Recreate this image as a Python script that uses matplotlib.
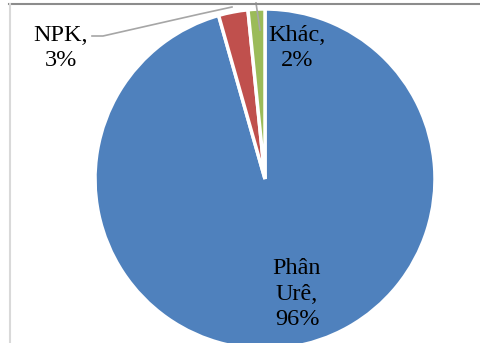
import matplotlib
matplotlib.use("Agg")
import matplotlib.pyplot as plt

categories = ["Phân\nUrê", "NPK", "Khác"]
values = [95.6, 2.8, 1.6]
pct_labels = ["96%", "3%", "2%"]
colors = ["#4F81BD", "#C0504D", "#9BBB59"]

W, H = 480, 343
fig = plt.figure(figsize=(W / 100, H / 100), dpi=100)
ax = fig.add_axes([0, 0, 1, 1])
ax.set_xlim(0, W)
ax.set_ylim(0, H)
ax.set_aspect("equal")
ax.axis("off")

cx, cy, r = 265, H - 179, 170
wedges, _ = ax.pie(values, colors=colors, startangle=90, counterclock=False,
                   center=(cx, cy), radius=r, explode=[0, 0.05, 0.05],
                   wedgeprops=dict(edgecolor="white", linewidth=2.5))
ax.set_xlim(0, W)
ax.set_ylim(0, H)

font = dict(family="Liberation Serif", fontsize=17.5, color="black",
            ha="center", va="center", linespacing=1.3)
ax.text(61, H - 48, categories[1] + ",\n" + pct_labels[1], **font)
ax.text(297, H - 48, categories[2] + ",\n" + pct_labels[2], **font)
ax.text(297, H - 294, categories[0] + ",\n" + pct_labels[0], **font)

# leader lines
ax.plot([92, 103, 200, 232], [H - 36, H - 36, H - 14, H - 7], color="#A6A6A6", lw=1.2)
ax.plot([256, 260], [H - 3, H - 30], color="#A6A6A6", lw=1.2)

# chart border (partially visible)
ax.plot([9, W], [H - 3.5, H - 3.5], color="#8C8C8C", lw=1.5, clip_on=False)
ax.plot([9.5, 9.5], [0, H - 3.5], color="#D9D9D9", lw=1.5, clip_on=False)

fig.savefig("out.png", dpi=100)
